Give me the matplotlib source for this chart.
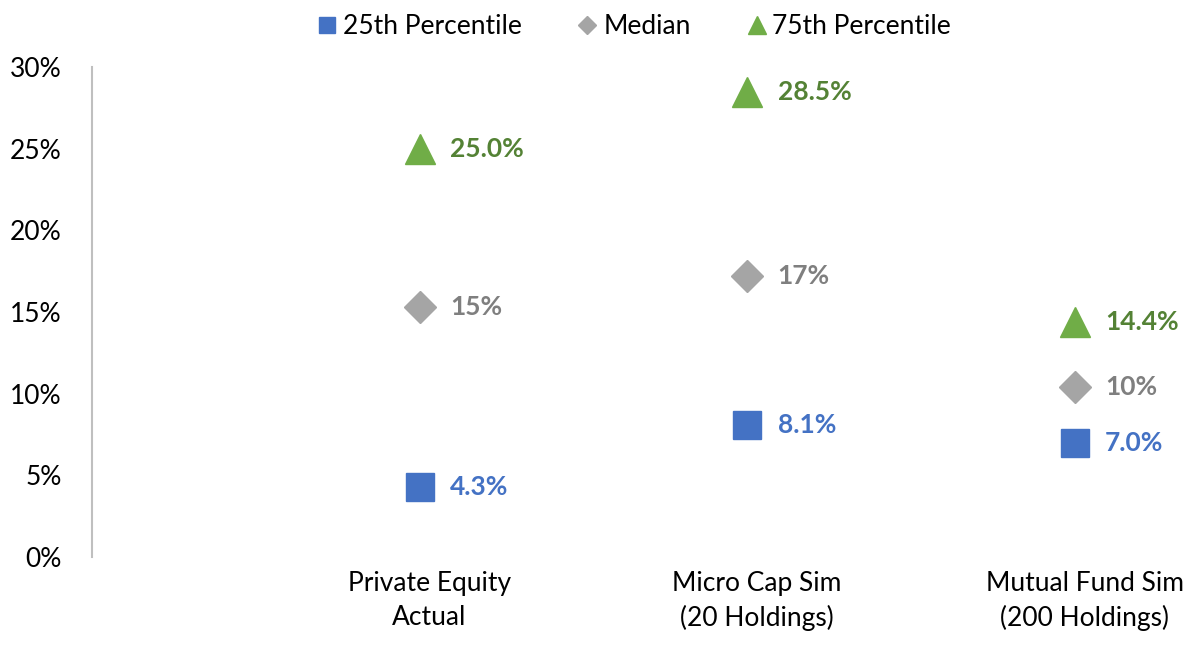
import matplotlib.pyplot as plt
import matplotlib.transforms as mtransforms
import numpy as np

categories = ["Private Equity\nActual", "Micro Cap Sim\n(20 Holdings)", "Mutual Fund Sim\n(200 Holdings)"]
p25 = [4.3, 8.1, 7.0]
median = [15.3, 17.2, 10.4]
p75 = [25.0, 28.5, 14.4]
yticks = [0, 5, 10, 15, 20, 25, 30]

plt.rcParams['font.family'] = ['Lato', 'DejaVu Sans']

fig = plt.figure(figsize=(12, 6.47), dpi=100)
ax = fig.add_axes([92 / 1200, 90 / 647, 1108 / 1200, 490 / 647])

x = np.arange(1, len(categories) + 1)

series = [
    (p25, "25th Percentile", "s", 20, "#4472C4", "#4472C4", "{:.1f}%"),
    (median, "Median", "D", 16, "#A5A5A5", "#7F7F7F", "{:.0f}%"),
    (p75, "75th Percentile", "^", 22, "#70AD47", "#548235", "{:.1f}%"),
]

for vals, name, mk, ms, col, tcol, fmt in series:
    ax.plot(x, vals, linestyle="none", marker=mk, markersize=ms, color=col, label=name)
    for xi, v in zip(x, vals):
        ax.annotate(fmt.format(v), (xi, v), xytext=(22, 0), textcoords="offset points",
                    ha="left", va="center", fontsize=19, fontweight="bold", color=tcol)

ax.set_xlim(0, 1108 / 327.5)
ax.set_ylim(0, 30)
ax.set_yticks(yticks)
ax.set_yticklabels([f"{t}%" for t in yticks])
ax.set_xticks(x)
ax.set_xticklabels(categories, linespacing=1.45)
ax.tick_params(axis="both", length=0, labelsize=19)
ax.tick_params(axis="y", pad=22)
ax.tick_params(axis="x", pad=10)

# category labels sit a little right of the markers in the original
shift = mtransforms.ScaledTranslation(10 / 100, 0, fig.dpi_scale_trans)
for lbl in ax.get_xticklabels():
    lbl.set_transform(lbl.get_transform() + shift)

for s in ["top", "right", "bottom"]:
    ax.spines[s].set_visible(False)
ax.spines["left"].set_color("#BFBFBF")
ax.spines["left"].set_linewidth(1.5)

leg = fig.legend(loc="upper center", bbox_to_anchor=(0.527, 1.015), ncol=3, frameon=False,
                 fontsize=19, markerscale=0.6, handletextpad=0.1, columnspacing=2.0,
                 handlelength=1.0)

fig.savefig("out.png", dpi=100)
